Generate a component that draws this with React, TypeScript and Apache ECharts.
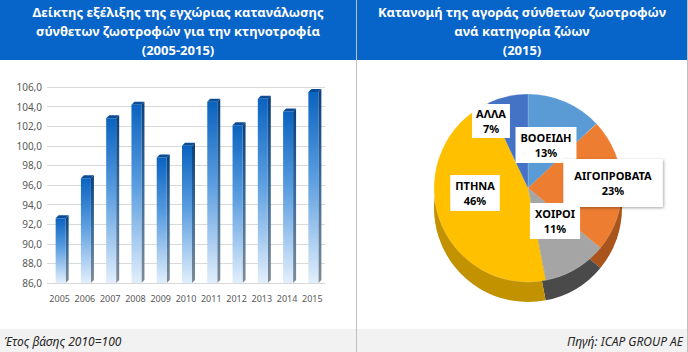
import React, { useEffect, useRef } from "react";
import * as echarts from "echarts";

const years = ["2005", "2006", "2007", "2008", "2009", "2010", "2011", "2012", "2013", "2014", "2015"];
const indexValues = [92.6, 96.7, 102.8, 104.2, 98.8, 100.0, 104.5, 102.1, 104.8, 103.5, 105.5];
const yMin = 86;
const yMax = 106;
const yStep = 2;

const pieCategories = ["ΒΟΟΕΙΔΗ", "ΑΙΓΟΠΡΟΒΑΤΑ", "ΧΟΙΡΟΙ", "ΠΤΗΝΑ", "ΑΛΛΑ"];
const pieShares = [13, 23, 11, 46, 7];

const leftTitle = "Δείκτης εξέλιξης της εγχώριας κατανάλωσης\nσύνθετων ζωοτροφών για την κτηνοτροφία\n(2005-2015)";
const rightTitle = "Κατανομή της αγοράς σύνθετων ζωοτροφών\nανά κατηγορία ζώων\n(2015)";
const footLeft = "Έτος βάσης 2010=100";
const footRight = "Πηγή: ICAP GROUP AE";

const topColors = ["#5b9bd5", "#ed7d31", "#a5a5a5", "#ffc000", "#4472c4"];
const sideColors = ["#3d6f9e", "#a9541c", "#4a4a4a", "#c29200", "#2f5597"];
const labelPos: number[][] = [
  [546, 145],
  [613, 183],
  [555, 221],
  [475, 193],
  [491, 121],
];
const labelPads: number[][] = [
  [3, 5],
  [9, 11],
  [3, 5],
  [3, 5],
  [2, 4],
];

const FONT = "'Noto Sans', 'Open Sans', sans-serif";

export default function App() {
  const ref = useRef<HTMLDivElement>(null);
  useEffect(() => {
    if (!ref.current) return;
    const chart = echarts.init(ref.current, undefined, { renderer: "svg" });

    const renderBar = (params: any, api: any) => {
      const top = api.coord([api.value(0), api.value(1)]);
      const base = api.coord([api.value(0), yMin]);
      const w = 10;
      const dx = 3;
      const dy = 3;
      const x0 = top[0] - w / 2 + 1;
      const yt = top[1];
      const yb = base[1];
      return {
        type: "group",
        children: [
          {
            type: "polygon",
            shape: { points: [[x0 + w, yt], [x0 + w + dx, yt - dy], [x0 + w + dx, yb - dy], [x0 + w, yb]] },
            style: {
              fill: new echarts.graphic.LinearGradient(0, 0, 0, 1, [
                { offset: 0, color: "#0b3f7a" },
                { offset: 0.5, color: "#3a6c9c" },
                { offset: 1, color: "#7f8b96" },
              ]),
            },
          },
          {
            type: "rect",
            shape: { x: x0, y: yt, width: w, height: yb - yt },
            style: {
              fill: new echarts.graphic.LinearGradient(0, 0, 0, 1, [
                { offset: 0, color: "#0a63c0" },
                { offset: 0.45, color: "#5a9de0" },
                { offset: 1, color: "#e2effc" },
              ]),
            },
          },
          {
            type: "polygon",
            shape: { points: [[x0, yt], [x0 + dx, yt - dy], [x0 + w + dx, yt - dy], [x0 + w, yt]] },
            style: { fill: "#0a4d96" },
          },
        ],
      };
    };

    const option: any = {
      animation: false,
      textStyle: { fontFamily: FONT },
      grid: { left: 47, top: 87, width: 278, height: 196, containLabel: false },
      xAxis: {
        type: "category",
        data: years,
        axisLine: { show: false },
        axisTick: { show: false },
        axisLabel: { color: "#595959", fontSize: 9, margin: 11, fontFamily: FONT, interval: 0, hideOverlap: false },
      },
      yAxis: {
        type: "value",
        min: yMin,
        max: yMax,
        interval: yStep,
        axisLine: { show: false },
        axisTick: { show: false },
        axisLabel: {
          color: "#595959",
          fontSize: 10,
          margin: 5,
          fontFamily: FONT,
          formatter: (v: number) => v.toFixed(1).replace(".", ","),
        },
        splitLine: { lineStyle: { color: "#d9d9d9", width: 1 } },
      },
      series: [
        {
          type: "custom",
          renderItem: renderBar,
          data: years.map((y, i) => [y, indexValues[i]]),
          encode: { x: 0, y: 1 },
          z: 2,
        },
        {
          type: "pie",
          silent: true,
          center: [528, 208],
          radius: [0, 94],
          startAngle: 90,
          clockwise: true,
          z: 1,
          label: { show: false },
          labelLine: { show: false },
          emphasis: { disabled: true },
          data: pieCategories.map((n, i) => ({ name: n + " ", value: pieShares[i], itemStyle: { color: sideColors[i] } })),
        },
        {
          type: "pie",
          center: [528, 188],
          radius: [0, 94],
          startAngle: 90,
          clockwise: true,
          z: 3,
          emphasis: { disabled: true },
          itemStyle: { borderColor: "rgba(255,255,255,0.35)", borderWidth: 0.5 },
          label: {
            show: true,
            position: "inside",
            formatter: "{b}\n{c}%",
            color: "#000",
            fontWeight: "bold",
            fontSize: 11,
            lineHeight: 15,
            fontFamily: FONT,
            backgroundColor: "#ffffff",
            align: "center",
          },
          labelLine: { show: false },
          labelLayout: (p: any) => ({ x: labelPos[p.dataIndex][0], y: labelPos[p.dataIndex][1] }),
          data: pieCategories.map((n, i) => ({
            name: n,
            value: pieShares[i],
            itemStyle: { color: topColors[i] },
            label: {
              padding: labelPads[i],
              shadowColor: i === 1 ? "rgba(0,0,0,0.35)" : "transparent",
              shadowBlur: i === 1 ? 3 : 0,
              shadowOffsetX: i === 1 ? 1 : 0,
              shadowOffsetY: i === 1 ? 1 : 0,
            },
          })),
        },
      ],
      graphic: [
        { type: "rect", z: 0, shape: { x: 0, y: 0, width: 356, height: 60 }, style: { fill: "#0764c8" } },
        { type: "rect", z: 0, shape: { x: 357, y: 0, width: 330, height: 60 }, style: { fill: "#0764c8" } },
        { type: "rect", z: 0, shape: { x: 0, y: 329, width: 687, height: 23 }, style: { fill: "#f2f2f2" } },
        { type: "line", z: 5, shape: { x1: 356.5, y1: 0, x2: 356.5, y2: 352 }, style: { stroke: "#bfbfbf", lineWidth: 1 } },
        { type: "line", z: 5, shape: { x1: 687.5, y1: 0, x2: 687.5, y2: 352 }, style: { stroke: "#bfbfbf", lineWidth: 1 } },
        {
          type: "text",
          z: 6,
          style: {
            text: leftTitle,
            x: 178,
            y: 2,
            fill: "#ffffff",
            fontSize: 13,
            fontWeight: "bold",
            fontFamily: FONT,
            lineHeight: 19,
            align: "center",
            textAlign: "center",
            verticalAlign: "top",
            textVerticalAlign: "top",
          },
        },
        {
          type: "text",
          z: 6,
          style: {
            text: rightTitle,
            x: 522,
            y: 2,
            fill: "#ffffff",
            fontSize: 13,
            fontWeight: "bold",
            fontFamily: FONT,
            lineHeight: 19,
            align: "center",
            textAlign: "center",
            verticalAlign: "top",
            textVerticalAlign: "top",
          },
        },
        {
          type: "text",
          z: 6,
          style: {
            text: footLeft,
            x: 4,
            y: 341,
            fill: "#262626",
            fontSize: 12,
            fontStyle: "italic",
            fontFamily: FONT,
            align: "left",
            textAlign: "left",
            verticalAlign: "middle",
            textVerticalAlign: "middle",
          },
        },
        {
          type: "text",
          z: 6,
          style: {
            text: footRight,
            x: 683,
            y: 341,
            fill: "#262626",
            fontSize: 12,
            fontStyle: "italic",
            fontFamily: FONT,
            align: "right",
            textAlign: "right",
            verticalAlign: "middle",
            textVerticalAlign: "middle",
          },
        },
      ],
    };

    chart.setOption(option);
    return () => chart.dispose();
  }, []);

  return (
    <div
      ref={ref}
      style={{ position: "fixed", left: 0, top: 0, width: 688, height: 352, background: "#ffffff" }}
    />
  );
}
